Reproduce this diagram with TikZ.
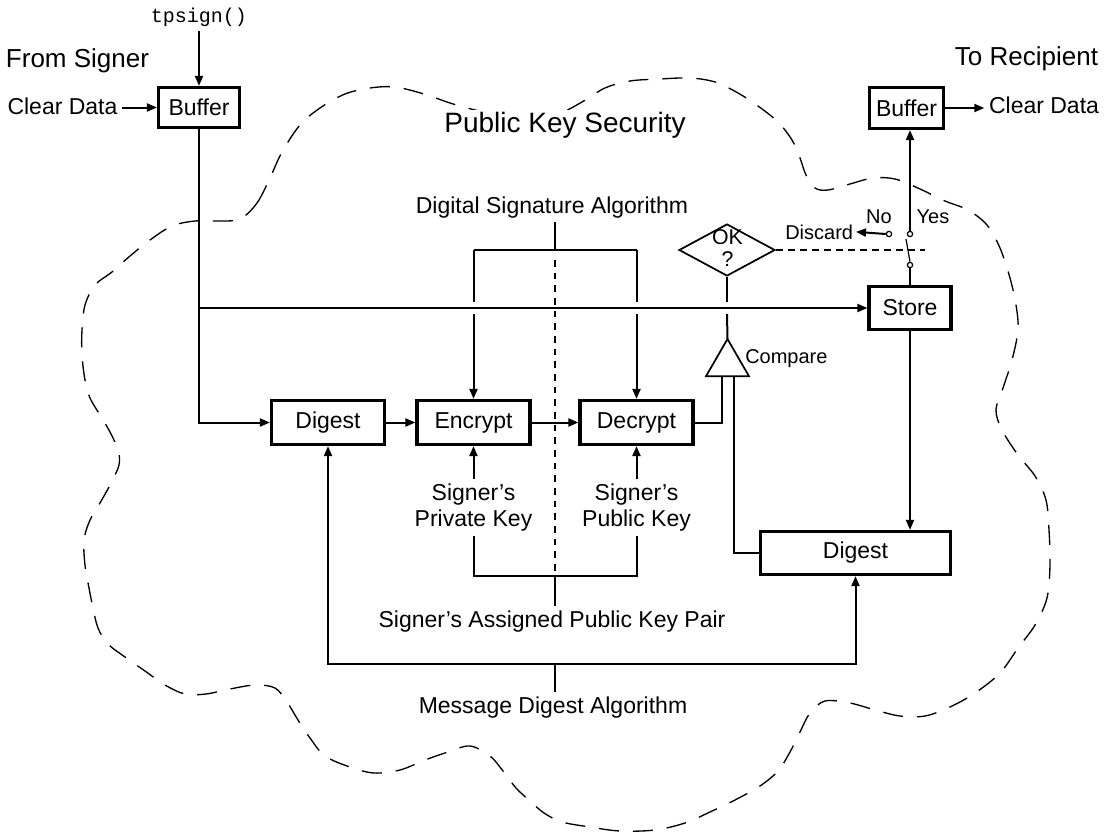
\documentclass[tikz,border=0pt]{standalone}
\usepackage{fontspec}
\setmainfont{Liberation Sans}
\setmonofont{Liberation Mono}
\usetikzlibrary{arrows.meta,shapes.geometric,calc}
\begin{document}
\begin{tikzpicture}[x=0.75pt,y=-0.75pt,
  conn/.style={line width=1.5pt},
  arr/.style={conn,-{Triangle[length=7.5pt,width=6pt]}},
  arrboth/.style={conn,{Triangle[length=7.5pt,width=6pt]}-{Triangle[length=7.5pt,width=6pt]}},
  boxn/.style={draw,line width=2.4pt,inner sep=0pt,font=\fontsize{17.25pt}{20pt}\selectfont},
  txt/.style={font=\fontsize{17.25pt}{20pt}\selectfont},
  sml/.style={font=\fontsize{15pt}{18pt}\selectfont},
  bigt/.style={font=\fontsize{19.5pt}{23pt}\selectfont},
  mono/.style={font=\fontsize{15pt}{18pt}\selectfont\ttfamily},
  cloudline/.style={line width=1pt,dash pattern=on 15pt off 10.5pt},
  dotline/.style={line width=1.5pt,dash pattern=on 5pt off 4.5pt},
  linkline/.style={line width=0.8pt,dash pattern=on 5pt off 4pt},
  contact/.style={circle,draw,fill=white,line width=0.9pt,inner sep=0pt,minimum size=4pt}]
\useasboundingbox (0,0) rectangle (1115,832);

% cloud
\draw[cloudline] plot[smooth cycle,tension=0.55] coordinates {
(240,219) (257,203) (270,178) (282,152) (300,125) (320,108) (345,94) (370,88)
(395,87) (424,94) (450,103) (475,110) (525,121) (560,113) (582,102) (605,88)
(630,81) (660,79) (690,78) (715,82) (738,93) (758,106) (778,122) (792,140)
(800,158) (806,175) (815,188) (828,190) (850,184) (873,178) (895,179) (920,189)
(945,201) (968,210) (987,225) (1000,248) (1010,278) (1016,305) (1018,330) (1012,360)
(1003,388) (996,410) (1002,430) (1018,455) (1035,476) (1046,500) (1049,530) (1050,565)
(1047,598) (1035,625) (1018,648) (1000,673) (975,693) (950,707) (925,716) (900,716)
(875,710) (850,703) (825,701) (810,713) (800,732) (790,752) (778,771) (760,786)
(735,800) (710,812) (685,823) (655,830) (620,831) (590,827) (562,822) (544,813)
(530,801) (516,788) (503,771) (490,756) (470,746) (448,752) (425,760) (400,770)
(374,773) (350,767) (325,756) (310,738) (298,720) (287,702) (275,688) (255,685)
(230,689) (206,694) (185,694) (165,685) (145,671) (125,657) (108,644) (98,628)
(93,608) (89,588) (85,565) (84,540) (90,520) (100,503) (110,485) (119,465)
(118,450) (110,432) (100,415) (90,398) (85,380) (82,355) (82,330) (85,305)
(95,285) (112,272) (130,256) (150,240) (172,226) (195,221) (218,221)};
\node[font=\fontsize{21pt}{25pt}\selectfont,anchor=base,fill=white,inner sep=1pt] (pks) at (565,132) {Public Key Security};

% texts
\node[mono,anchor=base] (tps) at (199,22) {tpsign()};
\node[bigt,anchor=base] (from) at (77.5,67) {From Signer};
\node[txt,anchor=base] (cd1) at (62.5,114) {Clear Data};
\node[bigt,anchor=base] (to) at (1026.5,65) {To Recipient};
\node[txt,anchor=base] (cd2) at (1044,113) {Clear Data};
\node[txt,anchor=base] (dsa) at (552,213) {Digital Signature Algorithm};
\node[txt,anchor=base] (skp) at (552,627) {Signer’s Assigned Public Key Pair};
\node[txt,anchor=base] (mda) at (553,713) {Message Digest Algorithm};
\node[txt,align=center] (priv) at (473.5,507.5) {Signer’s\\Private Key};
\node[txt,align=center] (pub) at (636.5,507.5) {Signer’s\\Public Key};
\node[sml,anchor=base west,inner sep=0pt] (cmpt) at (745,363) {Compare};
\node[sml,anchor=base east,inner sep=2pt] (disc) at (856,239) {Discard};
\node[sml,anchor=base] (no) at (879,223) {No};
\node[sml,anchor=base] (yes) at (933,223) {Yes};

% boxes
\node[boxn,minimum width=60.75pt,minimum height=30pt] (buf1) at (199,107.5) {Buffer};
\node[boxn,minimum width=55.5pt,minimum height=30.75pt] (buf2) at (906.5,108) {Buffer};
\node[boxn,minimum width=84.75pt,minimum height=33pt] (dig1) at (328,422.5) {Digest};
\node[boxn,minimum width=84.75pt,minimum height=33pt] (enc) at (473.5,422.5) {Encrypt};
\node[boxn,minimum width=84.75pt,minimum height=33pt] (dec) at (636.5,422.5) {Decrypt};
\node[boxn,minimum width=142.5pt,minimum height=32.25pt] (dig2) at (855.5,553) {Digest};
\node[boxn,minimum width=61.5pt,minimum height=32.25pt] (store) at (910,308) {Store};

% decision and compare
\node[diamond,draw,line width=1.3pt,minimum width=72pt,minimum height=39pt,inner sep=0pt] (ok) at (727,250) {};
\node[align=center,inner sep=0pt,font=\fontsize{16pt}{16.5pt}\selectfont] (okt) at (727.5,248) {OK\\?};
\node[regular polygon,regular polygon sides=3,draw,line width=1.3pt,minimum size=37.2pt,inner sep=0pt,outer sep=0pt] (cmp) at (727.5,363.8) {};

% switch contacts
\node[contact] (cN) at (889,234) {};
\node[contact] (cY) at (910,234) {};
\node[contact] (cL) at (910,265) {};

% coordinates
\coordinate (dsaJ) at (555,250);
\coordinate (pkJ) at (555,576);
\coordinate (mdJ) at (555,664);
\coordinate (swE) at (925,250);

% input side
\draw[arr] (tps.south -| buf1) -- (buf1.north);
\draw[arr] (cd1.east |- buf1.west) -- (buf1.west);
\draw[arr] (buf1.south) |- (dig1.west);
\draw[arr] (buf1.south |- store.west) -- (store.west);
\draw[arr] (dig1.east) -- (enc.west);
\draw[arr] (enc.east) -- (dec.west);

% digital signature algorithm bracket
\draw[conn] (dsaJ |- dsa.south) -- (dsaJ);
\draw[conn] (enc.north |- dsaJ) -- (dec.north |- dsaJ);
\draw[conn] (enc.north |- dsaJ) -- ($(enc.north |- store.west)+(0,-6)$);
\draw[arr] ($(enc.north |- store.west)+(0,6)$) -- (enc.north);
\draw[conn] (dec.north |- dsaJ) -- ($(dec.north |- store.west)+(0,-6)$);
\draw[arr] ($(dec.north |- store.west)+(0,6)$) -- (dec.north);
\draw[dotline] ($(dsaJ)+(0,10)$) -- (pkJ);

% key pair bracket
\draw[arr] (priv.north) -- (enc.south);
\draw[arr] (pub.north) -- (dec.south);
\draw[conn] (priv.south) -- (priv.south |- pkJ) -- (pub.south |- pkJ) -- (pub.south);
\draw[conn] (pkJ) -- (pkJ |- skp.north);

% message digest bracket
\draw[arrboth] (dig1.south) -- (dig1.south |- mdJ) -- (dig2.south |- mdJ) -- (dig2.south);
\draw[conn] (mdJ) -- (mdJ |- mda.north);

% compare and decision
\draw[conn] (dec.east) -| ([xshift=-4.5pt]cmp.south);
\draw[conn] ([xshift=4.5pt]cmp.south) |- (dig2.west);
\draw[conn] (ok.south) -- ($(ok.south |- store.west)+(0,-6)$);
\draw[conn] ($(ok.south |- store.west)+(0,6)$) -- (cmp.north);
\draw[linkline] (ok.east) -- (swE);

% store, switch, output
\draw[arr] (store.south) -- (store.south |- dig2.north);
\draw[conn] (store.north) -- (cL.south);
\draw[line width=0.9pt] (cL.north) -- ($(cY)+(-4,5)$);
\draw[arr] (cY.north) -- (cY |- buf2.south);
\draw[arr] (cN.west) -- (disc.east);
\draw[arr] (buf2.east) -- (cd2.west |- buf2.east);
\end{tikzpicture}
\end{document}
